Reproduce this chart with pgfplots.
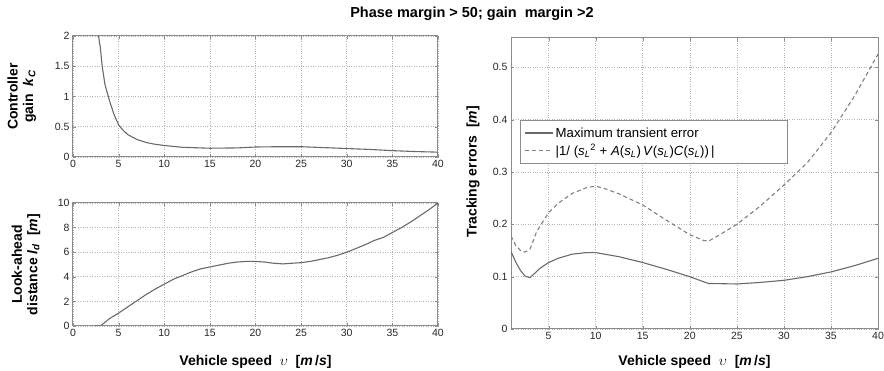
\documentclass[border=0pt]{standalone}
\usepackage{fontspec}
\setmainfont{Liberation Sans}
\usepackage{pgfplots}
\pgfplotsset{compat=1.18}
\definecolor{linegray}{HTML}{6A6A6A}
\definecolor{dashgray}{HTML}{808080}
\definecolor{gridgray}{HTML}{B4B4B4}
\definecolor{framegray}{HTML}{8C8C8C}
\newcommand{\sL}{\textit{s}\textsubscript{\textit{L}}}
\pgfplotsset{myaxis/.style={
  scale only axis,
  axis line style={framegray, line width=1pt},
  grid=major,
  major grid style={dotted, gridgray, line width=0.6pt},
  tick style={framegray},
  major tick length=3pt,
  tick align=inside,
  ticklabel style={font=\fontsize{10.5}{12}\selectfont, text=black!85},
  /pgf/number format/assume math mode=true,
  label style={font=\fontsize{14}{15.5}\selectfont\bfseries, align=center},
}}
\tikzset{solidline/.style={linegray, line width=1.1pt, no marks},
  dashline/.style={dashgray, line width=1.1pt, no marks, dash pattern=on 4pt off 3pt}}
\begin{document}
\begin{tikzpicture}
\useasboundingbox (0,0) rectangle (884pt,371pt);
\node[font=\fontsize{14.5}{17}\selectfont\bfseries] at (472pt,357pt) {Phase margin > 50; gain~~margin >2};

% top-left: controller gain
\begin{axis}[myaxis, at={(73pt,214pt)}, anchor=south west, width=365pt, height=121pt,
  xmin=0, xmax=40, ymin=0, ymax=2,
  xtick={0,5,...,40}, ytick={0,0.5,1,1.5,2},
  ylabel={Controller\\gain~~\textit{k}\textsubscript{\textit{C}}},
  ylabel style={at={(axis description cs:-0.14,0.5)}, anchor=center}]
\addplot[solidline] coordinates {(2.8,2.0) (3.0,1.8) (3.2,1.5) (3.5,1.2) (4.0,0.93) (4.5,0.7) (5.0,0.53) (5.5,0.44) (6.0,0.37) (7.0,0.29) (8.0,0.24) (9.0,0.21) (10,0.19) (12,0.16) (15,0.145) (18,0.15) (20,0.165) (22.5,0.17) (25,0.17) (27.5,0.155) (30,0.14) (32.5,0.125) (35,0.105) (37.5,0.09) (40,0.08)};
\end{axis}

% bottom-left: look-ahead distance
\begin{axis}[myaxis, at={(73pt,45pt)}, anchor=south west, width=365pt, height=123pt,
  xmin=0, xmax=40, ymin=0, ymax=10,
  xtick={0,5,...,40}, ytick={0,2,...,10},
  ylabel={Look-ahead\\distance \textit{l}\textsubscript{\textit{d}}~~[\textit{m}]},
  ylabel style={at={(axis description cs:-0.129,0.5)}, anchor=center},
  xlabel={Vehicle speed~~$\upsilon$~~[\textit{m}\,/\textit{s}]},
  xlabel style={at={(axis description cs:0.5,-0.293)}, anchor=center}]
\addplot[solidline] coordinates {(2.4,0) (3.0,0) (3.5,0.3) (4,0.6) (5,1.05) (6,1.55) (7,2.05) (8,2.55) (9,3.0) (10,3.4) (11,3.8) (12,4.1) (13,4.4) (14,4.65) (15,4.8) (16,4.95) (17,5.1) (18,5.2) (19,5.25) (20,5.25) (21,5.2) (22,5.1) (23,5.05) (24,5.1) (25,5.15) (26,5.25) (27,5.4) (28,5.55) (29,5.75) (30,6.0) (31,6.3) (32,6.6) (33,6.95) (34,7.2) (35,7.6) (36,8.0) (37,8.45) (38,8.95) (39,9.45) (40,10)};
\end{axis}

% right: tracking errors
\begin{axis}[myaxis, at={(511pt,42pt)}, anchor=south west, width=367pt, height=291pt,
  xmin=1, xmax=40, ymin=0, ymax=0.556,
  xtick={5,10,...,40}, ytick={0,0.1,0.2,0.3,0.4,0.5},
  ylabel={Tracking errors~~[\textit{m}]},
  ylabel style={at={(axis description cs:-0.1035,0.54)}, anchor=center},
  xlabel={Vehicle speed~~$\upsilon$~~[\textit{m}\,/\textit{s}]},
  xlabel style={at={(axis description cs:0.5,-0.113)}, anchor=center},
  legend style={at={(0.025,0.718)}, anchor=north west, draw=framegray, line width=0.8pt,
    font=\fontsize{13.2}{14.5}\selectfont, inner xsep=4pt, inner ysep=5pt, row sep=2pt},
  legend cell align=left,
  legend image code/.code={\draw[#1] (0pt,0pt) -- (28pt,0pt);}]
\addplot[solidline] coordinates {(1,0.148) (1.5,0.128) (2,0.112) (2.5,0.101) (3,0.098) (3.5,0.106) (4,0.115) (5,0.127) (6,0.135) (7.5,0.143) (9,0.146) (10,0.146) (12.5,0.138) (15,0.127) (17.5,0.114) (20,0.1) (21.5,0.09) (22,0.087) (25,0.086) (27.5,0.089) (30,0.093) (32.5,0.1) (35,0.109) (37.5,0.121) (40,0.135)};
\addlegendentry{\makebox[226pt][l]{Maximum transient error}}
\addplot[dashline] coordinates {(1,0.178) (1.5,0.16) (2,0.15) (2.5,0.147) (3,0.152) (3.3,0.165) (3.7,0.185) (4.2,0.2) (5,0.222) (6,0.24) (7.5,0.259) (9,0.27) (10,0.273) (11,0.268) (12.5,0.258) (15,0.237) (17.5,0.208) (20,0.18) (21.5,0.169) (22,0.168) (23,0.178) (25,0.2) (27.5,0.235) (30,0.275) (32.5,0.318) (35,0.375) (37.5,0.445) (40,0.525)};
\addlegendentry{\makebox[226pt][l]{|1/ (\sL\textsuperscript{2} + \textit{A}(\sL)\,\textit{V}(\sL)\textit{C}(\sL))\,|}}
\end{axis}
\end{tikzpicture}
\end{document}
